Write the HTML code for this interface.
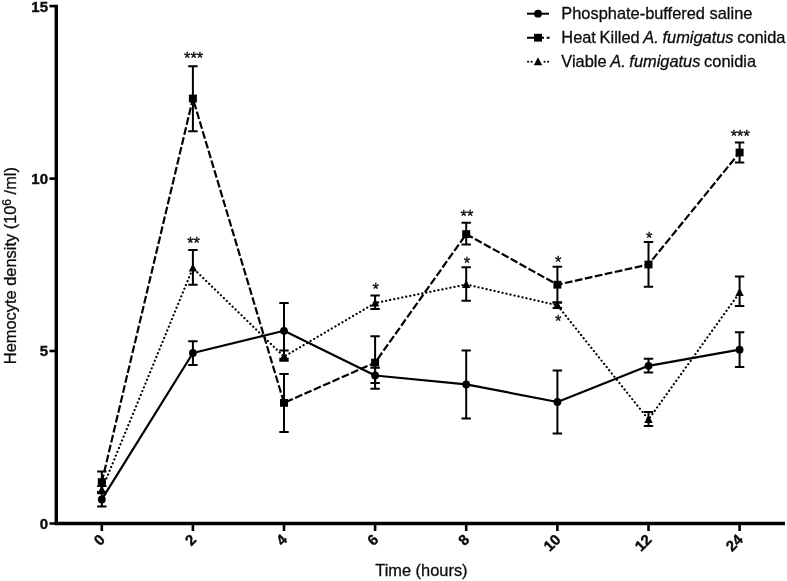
<!DOCTYPE html>
<html><head><meta charset="utf-8"><title>Hemocyte density</title>
<style>
html,body{margin:0;padding:0;background:#fff}
svg{display:block;filter:blur(0.45px)}
text{font-family:"Liberation Sans",Arial,Helvetica,sans-serif;fill:#0a0a0a}
.b{font-weight:bold;font-size:15px;stroke:#111;stroke-width:0.4px}
.r{font-size:16.4px;stroke:#111;stroke-width:0.3px}
.n{word-spacing:-0.9px}
.s{stroke:#111;stroke-width:0.35px}
</style></head><body>
<svg width="787" height="581" viewBox="0 0 787 581">
<rect width="787" height="581" fill="#fff"/>
<path d="M101.8 499.4L192.9 353.0L284.0 330.8L375.1 375.5L466.2 384.4L557.4 402.0L648.5 365.8L739.6 349.7" stroke="#000" stroke-width="2.2" fill="none" stroke-linejoin="round" stroke-linecap="butt"/>
<path d="M101.8 482.1L192.9 98.5L284.0 402.9L375.1 362.6L466.2 234.1L557.4 284.7L648.5 264.5L739.6 152.5" stroke="#000" stroke-width="2.2" fill="none" stroke-linejoin="round" stroke-linecap="butt" stroke-dasharray="7.7 2.5"/>
<path d="M101.8 489.8L192.9 268.0L284.0 356.6L375.1 303.0L466.2 284.5L557.4 305.3L648.5 419.5L739.6 292.5" stroke="#000" stroke-width="2.2" fill="none" stroke-linejoin="round" stroke-linecap="round" stroke-dasharray="0.1 4"/>
<path d="M101.8 492.0V506.6M97.1 492.0H106.5M97.1 506.6H106.5" stroke="#000" stroke-width="2" fill="none"/>
<circle cx="101.8" cy="499.4" r="3.9"/>
<path d="M192.9 341.2V365.0M188.2 341.2H197.6M188.2 365.0H197.6" stroke="#000" stroke-width="2" fill="none"/>
<circle cx="192.9" cy="353.0" r="3.9"/>
<path d="M284.0 302.9V358.7M279.3 302.9H288.7M279.3 358.7H288.7" stroke="#000" stroke-width="2" fill="none"/>
<circle cx="284.0" cy="330.8" r="3.9"/>
<path d="M375.1 367.8V383.0M370.4 367.8H379.8M370.4 383.0H379.8" stroke="#000" stroke-width="2" fill="none"/>
<circle cx="375.1" cy="375.5" r="3.9"/>
<path d="M466.2 350.6V418.4M461.5 350.6H470.9M461.5 418.4H470.9" stroke="#000" stroke-width="2" fill="none"/>
<circle cx="466.2" cy="384.4" r="3.9"/>
<path d="M557.4 370.4V433.4M552.6 370.4H562.1M552.6 433.4H562.1" stroke="#000" stroke-width="2" fill="none"/>
<circle cx="557.4" cy="402.0" r="3.9"/>
<path d="M648.5 358.8V372.6M643.8 358.8H653.2M643.8 372.6H653.2" stroke="#000" stroke-width="2" fill="none"/>
<circle cx="648.5" cy="365.8" r="3.9"/>
<path d="M739.6 332.2V367.0M734.9 332.2H744.3M734.9 367.0H744.3" stroke="#000" stroke-width="2" fill="none"/>
<circle cx="739.6" cy="349.7" r="3.9"/>
<path d="M101.8 471.5V492.5M97.1 471.5H106.5M97.1 492.5H106.5" stroke="#000" stroke-width="2" fill="none"/>
<rect x="97.8" y="478.2" width="8" height="7.8"/>
<path d="M192.9 66.2V131.2M188.2 66.2H197.6M188.2 131.2H197.6" stroke="#000" stroke-width="2" fill="none"/>
<rect x="188.9" y="94.6" width="8" height="7.8"/>
<path d="M284.0 374.0V432.0M279.3 374.0H288.7M279.3 432.0H288.7" stroke="#000" stroke-width="2" fill="none"/>
<rect x="280.0" y="399.0" width="8" height="7.8"/>
<path d="M375.1 336.2V388.7M370.4 336.2H379.8M370.4 388.7H379.8" stroke="#000" stroke-width="2" fill="none"/>
<rect x="371.1" y="358.7" width="8" height="7.8"/>
<path d="M466.2 222.8V244.6M461.5 222.8H470.9M461.5 244.6H470.9" stroke="#000" stroke-width="2" fill="none"/>
<rect x="462.2" y="230.2" width="8" height="7.8"/>
<path d="M557.4 266.8V302.6M552.6 266.8H562.1M552.6 302.6H562.1" stroke="#000" stroke-width="2" fill="none"/>
<rect x="553.4" y="280.8" width="8" height="7.8"/>
<path d="M648.5 242.0V286.8M643.8 242.0H653.2M643.8 286.8H653.2" stroke="#000" stroke-width="2" fill="none"/>
<rect x="644.5" y="260.6" width="8" height="7.8"/>
<path d="M739.6 142.4V162.6M734.9 142.4H744.3M734.9 162.6H744.3" stroke="#000" stroke-width="2" fill="none"/>
<rect x="735.6" y="148.6" width="8" height="7.8"/>
<path d="M101.8 486.0V493.2M97.1 486.0H106.5M97.1 493.2H106.5" stroke="#000" stroke-width="2" fill="none"/>
<path d="M101.8 485.3L106.0 493.3H97.6Z"/>
<path d="M192.9 250.1V284.8M188.2 250.1H197.6M188.2 284.8H197.6" stroke="#000" stroke-width="2" fill="none"/>
<path d="M192.9 263.5L197.1 271.5H188.7Z"/>
<path d="M284.0 350.4V360.8M279.3 350.4H288.7M279.3 360.8H288.7" stroke="#000" stroke-width="2" fill="none"/>
<path d="M284.0 352.1L288.2 360.1H279.8Z"/>
<path d="M375.1 295.5V308.9M370.4 295.5H379.8M370.4 308.9H379.8" stroke="#000" stroke-width="2" fill="none"/>
<path d="M375.1 298.5L379.3 306.5H370.9Z"/>
<path d="M466.2 267.2V300.8M461.5 267.2H470.9M461.5 300.8H470.9" stroke="#000" stroke-width="2" fill="none"/>
<path d="M466.2 280.0L470.4 288.0H462.0Z"/>
<path d="M557.4 302.6V308.0M552.6 302.6H562.1M552.6 308.0H562.1" stroke="#000" stroke-width="2" fill="none"/>
<path d="M557.4 300.8L561.6 308.8H553.1Z"/>
<path d="M648.5 412.0V426.0M643.8 412.0H653.2M643.8 426.0H653.2" stroke="#000" stroke-width="2" fill="none"/>
<path d="M648.5 415.0L652.7 423.0H644.3Z"/>
<path d="M739.6 276.5V306.0M734.9 276.5H744.3M734.9 306.0H744.3" stroke="#000" stroke-width="2" fill="none"/>
<path d="M739.6 288.0L743.8 296.0H735.4Z"/>
<path d="M56.3 4.8V523.5H785" stroke="#000" stroke-width="3.4" fill="none" stroke-linejoin="miter"/>
<path d="M49.5 523.5H56" stroke="#000" stroke-width="2.6"/>
<path d="M49.5 351.0H56" stroke="#000" stroke-width="2.6"/>
<path d="M49.5 178.6H56" stroke="#000" stroke-width="2.6"/>
<path d="M49.5 6.1H56" stroke="#000" stroke-width="2.6"/>
<path d="M101.8 523V531" stroke="#000" stroke-width="2.6"/>
<path d="M192.9 523V531" stroke="#000" stroke-width="2.6"/>
<path d="M284.0 523V531" stroke="#000" stroke-width="2.6"/>
<path d="M375.1 523V531" stroke="#000" stroke-width="2.6"/>
<path d="M466.2 523V531" stroke="#000" stroke-width="2.6"/>
<path d="M557.4 523V531" stroke="#000" stroke-width="2.6"/>
<path d="M648.5 523V531" stroke="#000" stroke-width="2.6"/>
<path d="M739.6 523V531" stroke="#000" stroke-width="2.6"/>
<text x="48" y="528.9" text-anchor="end" class="b">0</text>
<text x="48" y="356.4" text-anchor="end" class="b">5</text>
<text x="48" y="184.0" text-anchor="end" class="b">10</text>
<text x="48" y="11.5" text-anchor="end" class="b">15</text>
<text transform="translate(102.2 536.7) rotate(-45)" text-anchor="end" class="b" x="0" y="5.35">0</text>
<text transform="translate(193.3 536.7) rotate(-45)" text-anchor="end" class="b" x="0" y="5.35">2</text>
<text transform="translate(284.4 536.7) rotate(-45)" text-anchor="end" class="b" x="0" y="5.35">4</text>
<text transform="translate(375.5 536.7) rotate(-45)" text-anchor="end" class="b" x="0" y="5.35">6</text>
<text transform="translate(466.6 536.7) rotate(-45)" text-anchor="end" class="b" x="0" y="5.35">8</text>
<text transform="translate(557.8 536.7) rotate(-45)" text-anchor="end" class="b" x="0" y="5.35">10</text>
<text transform="translate(648.9 536.7) rotate(-45)" text-anchor="end" class="b" x="0" y="5.35">12</text>
<text transform="translate(740.0 536.7) rotate(-45)" text-anchor="end" class="b" x="0" y="5.35">24</text>
<text x="421.4" y="576" text-anchor="middle" class="r">Time (hours)</text>
<text transform="translate(16.1 265.6) rotate(-90)" text-anchor="middle" class="r">Hemocyte density (10<tspan dy="-5.5" font-size="12">6</tspan><tspan dy="5.5"> /ml)</tspan></text>
<text x="193.6" y="64.0" text-anchor="middle" class="r s">***</text>
<text x="193.6" y="249.0" text-anchor="middle" class="r s">**</text>
<text x="375.8" y="295.4" text-anchor="middle" class="r s">*</text>
<text x="466.9" y="221.6" text-anchor="middle" class="r s">**</text>
<text x="466.9" y="268.5" text-anchor="middle" class="r s">*</text>
<text x="558.1" y="267.5" text-anchor="middle" class="r s">*</text>
<text x="558.1" y="327.4" text-anchor="middle" class="r s">*</text>
<text x="649.2" y="244.0" text-anchor="middle" class="r s">*</text>
<text x="740.3" y="142.1" text-anchor="middle" class="r s">***</text>
<path d="M527 13.7H549" stroke="#000" stroke-width="2"/><circle cx="538" cy="13.7" r="3.9"/>
<path d="M527 37.7H544M546.7 37.7H549.6" stroke="#000" stroke-width="2"/><rect x="534" y="33.8" width="8" height="7.8"/>
<path d="M528 61.7h.1M531.5 61.7h.1M544.5 61.7h.1M548 61.7h.1" stroke="#000" stroke-width="2" stroke-linecap="round"/><path d="M538 57.2L542.2 65.2H533.8Z"/>
<text x="561.3" y="18.5" class="r">Phosphate-buffered saline</text>
<text x="561.3" y="42.5" class="r n">Heat Killed <tspan font-style="italic">A. fumigatus</tspan> conida</text>
<text x="561.3" y="66.5" class="r n">Viable <tspan font-style="italic">A. fumigatus</tspan> conidia</text>
</svg>
</body></html>
